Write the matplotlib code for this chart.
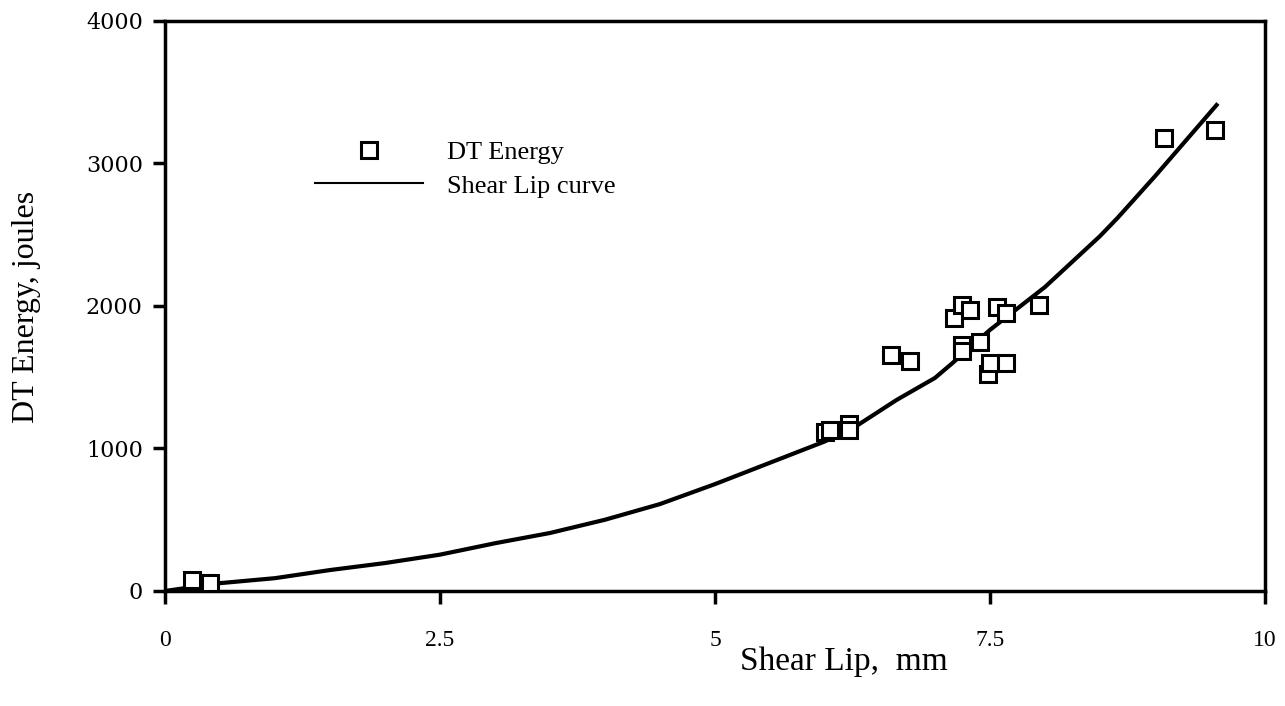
import matplotlib.pyplot as plt
import numpy as np

# DT Energy measurements (shear lip mm, joules)
shear_lip = [0.25, 0.41, 6.0, 6.05, 6.22, 6.22, 6.6, 6.77,
             7.17, 7.25, 7.32, 7.56, 7.65, 7.95,
             7.25, 7.25, 7.41, 7.48, 7.5, 7.65,
             9.08, 9.55]
dt_energy = [80, 55, 1115, 1130, 1170, 1130, 1655, 1615,
             1915, 2005, 1970, 1995, 1950, 2005,
             1725, 1685, 1745, 1525, 1600, 1600,
             3180, 3235]

# shear lip curve
curve_x = [0, 0.5, 1, 1.5, 2, 2.5, 3, 3.5, 4, 4.5, 5, 5.5, 6, 6.3,
           6.65, 7, 7.16, 7.5, 8, 8.5, 8.66, 9, 9.56]
curve_y = [0, 55, 90, 147, 196, 255, 335, 407, 500, 610, 750, 900, 1050, 1165,
           1340, 1495, 1600, 1832, 2133, 2490, 2618, 2910, 3410]

xticks = [0, 2.5, 5, 7.5, 10]
xtick_labels = ['0', '2.5', '5', '7.5', '10']
yticks = [0, 1000, 2000, 3000, 4000]

plt.rcParams['font.family'] = 'Liberation Serif'

fig = plt.figure(figsize=(12.85, 7.06), dpi=100)
ax = fig.add_axes([0.1284, 0.1629, 0.856, 0.8074])

ax.plot(shear_lip, dt_energy, 's', ms=11.5, mfc='white', mec='black', mew=2.2,
        label='DT Energy', zorder=3)
ax.plot(curve_x, curve_y, '-', color='black', lw=3, label='Shear Lip curve', zorder=2)

ax.set_xlim(0, 10)
ax.set_ylim(0, 4000)
ax.set_xticks(xticks)
ax.set_xticklabels(xtick_labels)
ax.set_yticks(yticks)

for s in ax.spines.values():
    s.set_linewidth(2.5)
ax.tick_params(axis='both', direction='out', length=9, width=2.5)
ax.tick_params(axis='x', pad=19, labelsize=17)
ax.tick_params(axis='y', pad=7, labelsize=16)
for lbl in ax.get_yticklabels():
    lbl.set_family('DejaVu Serif')

ax.set_xlabel('Shear Lip,  mm', fontsize=24, va='center')
ax.xaxis.set_label_coords(0.617, -0.125)
ax.set_ylabel('DT Energy, joules', fontsize=23)
ax.yaxis.set_label_coords(-0.113, 0.498)

leg = ax.legend(loc='upper left', bbox_to_anchor=(0.136, 0.79), frameon=False,
                fontsize=19, handlelength=4.1, handletextpad=0.9,
                labelspacing=0.38, borderpad=0, borderaxespad=0)
leg.get_lines()[1].set_linewidth(1.5)

plt.savefig('out.png', dpi=100)
